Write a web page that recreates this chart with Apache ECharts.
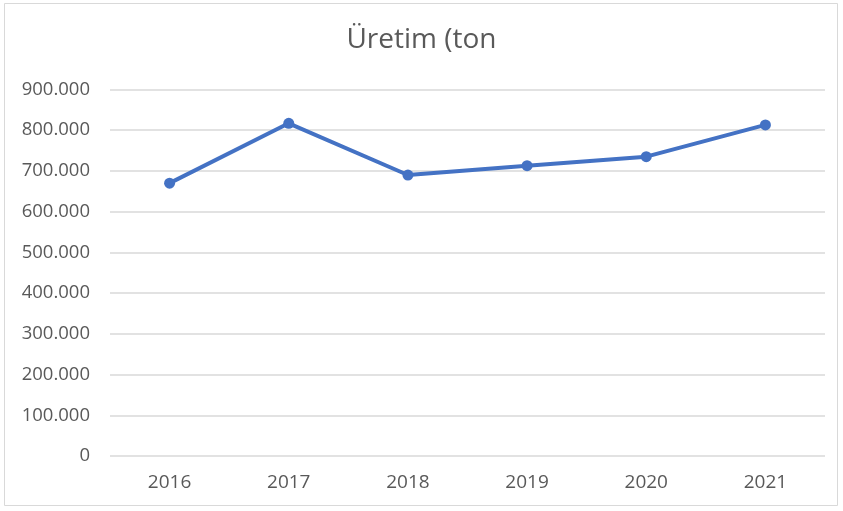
<!DOCTYPE html>
<html>
<head>
<meta charset="utf-8">
<script src="https://cdn.jsdelivr.net/npm/echarts@6/dist/echarts.min.js"></script>
<style>html,body{margin:0;padding:0;background:#fff}#c{width:843px;height:511px}</style>
</head>
<body>
<div id="c"></div>
<script>
const titleText = 'Üretim (ton';
const years = ['2016', '2017', '2018', '2019', '2020', '2021'];
const production = [670000, 817000, 690000, 713000, 735000, 813000];
const yMin = 0, yMax = 900000, yStep = 100000;

const chart = echarts.init(document.getElementById('c'), null, {renderer: 'canvas'});
const fmt = v => v === 0 ? '0' : String(v).replace(/\B(?=(\d{3})+(?!\d))/g, '.');
chart.setOption({
  animation: false,
  backgroundColor: '#fff',
  title: {
    text: titleText, left: 'center', top: 21,
    textStyle: {fontFamily: 'Open Sans', fontSize: 28, fontWeight: 'normal', color: '#595959'}
  },
  grid: {left: 110, right: 18, top: 89.5, bottom: 55, containLabel: false},
  xAxis: {
    type: 'category', data: years, boundaryGap: true,
    axisLine: {show: false}, axisTick: {show: false},
    axisLabel: {color: '#595959', fontFamily: 'Open Sans', fontSize: 19, margin: 17}
  },
  yAxis: {
    type: 'value', min: yMin, max: yMax, interval: yStep,
    axisLine: {show: false}, axisTick: {show: false},
    axisLabel: {color: '#595959', fontFamily: 'Open Sans', fontSize: 18.5, margin: 20, formatter: fmt},
    splitLine: {lineStyle: {color: '#d9d9d9', width: 1.5}}
  },
  series: [{
    type: 'line', data: production,
    lineStyle: {color: '#4472C4', width: 4},
    itemStyle: {color: '#4472C4'},
    symbol: 'circle', symbolSize: 11
  }],
  graphic: [{
    type: 'rect', shape: {x: 4.5, y: 3.5, width: 833, height: 502},
    style: {fill: null, stroke: '#d9d9d9', lineWidth: 1}, silent: true
  }]
});
</script>
</body>
</html>
